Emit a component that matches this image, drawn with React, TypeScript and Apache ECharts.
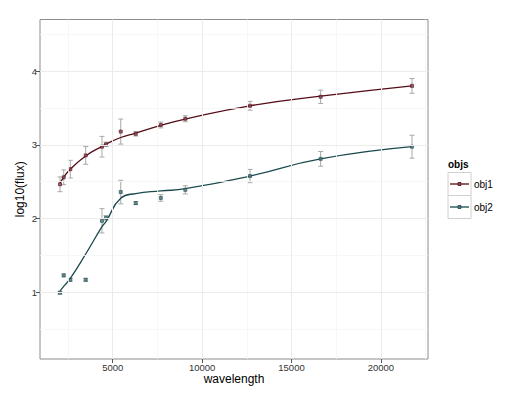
import React, { useEffect, useRef } from "react";
import * as echarts from "echarts";

const wavelengths = [2053, 2260, 2630, 3490, 4400, 4625, 5450, 6290, 7690, 9060, 12680, 16630, 21740];
const obj1Flux = [2.465, 2.56, 2.67, 2.857, 2.975, 3.007, 3.18, 3.15, 3.27, 3.354, 3.53, 3.652, 3.8];
const obj1Err = [0.1, 0.1, 0.12, 0.12, 0.14, 0.03, 0.17, 0.03, 0.04, 0.04, 0.06, 0.09, 0.1];
const obj1Model = [2.48, 2.56, 2.67, 2.85, 2.98, 3.01, 3.1, 3.16, 3.265, 3.35, 3.53, 3.66, 3.8];
const obj2Flux = [0.995, 1.23, 1.17, 1.17, 1.97, 2.01, 2.36, 2.21, 2.28, 2.39, 2.577, 2.81, 2.975];
const obj2Err = [0.02, 0.02, 0.02, 0.02, 0.165, 0.03, 0.16, 0.02, 0.045, 0.055, 0.09, 0.1, 0.155];
const obj2Model = [1.02, 1.08, 1.19, 1.52, 1.89, 1.96, 2.275, 2.34, 2.375, 2.405, 2.577, 2.81, 2.975];

const xTicks = [5000, 10000, 15000, 20000];
const xMinor = [2500, 7500, 12500, 17500, 22500];
const yTicks = [1, 2, 3, 4];
const yMinor = [0.5, 1.5, 2.5, 3.5, 4.5];
const seriesNames = ["obj1", "obj2"];

const X_MIN = 934;
const X_MAX = 22634;
const Y_MIN = 0.096;
const Y_MAX = 4.7;

const LINE1 = "#560d18";
const LINE2 = "#1b4a4f";
const FILL1 = "#8a4a55";
const FILL2 = "#4d7b7d";
const FONT = "Liberation Sans, Arial, sans-serif";

function errData(flux: number[], err: number[]) {
  return wavelengths.map((w, i) => [w, flux[i], err[i]]);
}

function renderErr(params: any, api: any) {
  const x = api.value(0);
  const y = api.value(1);
  const e = api.value(2);
  const top = api.coord([x, y + e]);
  const bot = api.coord([x, y - e]);
  const hw = 2.5;
  const style = { stroke: "#a8a8a8", lineWidth: 1 };
  return {
    type: "group",
    children: [
      { type: "line", shape: { x1: top[0], y1: top[1], x2: bot[0], y2: bot[1] }, style },
      { type: "line", shape: { x1: top[0] - hw, y1: top[1], x2: top[0] + hw, y2: top[1] }, style },
      { type: "line", shape: { x1: bot[0] - hw, y1: bot[1], x2: bot[0] + hw, y2: bot[1] }, style },
    ],
  };
}

export default function App() {
  const ref = useRef<HTMLDivElement>(null);
  useEffect(() => {
    if (!ref.current) return;
    const chart = echarts.init(ref.current, undefined, { renderer: "svg" });
    const majorStyle = { color: "#ebebeb", width: 1, type: "solid" as const };
    const minorStyle = { color: "#f5f5f5", width: 0.8, type: "solid" as const };
    const gridLines = [
      ...xMinor.map((v) => ({ xAxis: v, lineStyle: minorStyle })),
      ...yMinor.map((v) => ({ yAxis: v, lineStyle: minorStyle })),
      ...xTicks.map((v) => ({ xAxis: v, lineStyle: majorStyle })),
      ...yTicks.map((v) => ({ yAxis: v, lineStyle: majorStyle })),
    ];
    const legendItems = seriesNames.map((n, i) => {
      const top = 172.5 + i * 23;
      const c = i === 0 ? LINE1 : LINE2;
      const f = i === 0 ? FILL1 : FILL2;
      return [
        { type: "rect", shape: { x: 448, y: top, width: 23, height: 23 }, style: { fill: "#ffffff", stroke: "#d0d0d0", lineWidth: 1 } },
        { type: "line", shape: { x1: 450, y1: top + 11.5, x2: 469, y2: top + 11.5 }, style: { stroke: c, lineWidth: 1.3 } },
        { type: "rect", shape: { x: 458, y: top + 10, width: 3, height: 3 }, style: { fill: f, stroke: c, lineWidth: 0.8 } },
        { type: "text", style: { x: 474, y: top + 11.5, text: n, font: `10px ${FONT}`, fill: "#000", verticalAlign: "middle", align: "left" } },
      ];
    }).flat();

    chart.setOption({
      animation: false,
      grid: { left: 40, top: 19.5, right: 99, bottom: 43, show: true, borderColor: "#8c8c8c", borderWidth: 1, backgroundColor: "#fff", containLabel: false },
      xAxis: {
        type: "value",
        min: X_MIN,
        max: X_MAX,
        name: "wavelength",
        nameLocation: "middle",
        nameGap: 14,
        nameMoveOverlap: false,
        nameTextStyle: { fontFamily: FONT, fontSize: 12, color: "#000", padding: [0, 0, 0, 0] },
        axisLine: { show: false },
        axisTick: { show: true, customValues: xTicks, length: 4, lineStyle: { color: "#555" } },
        axisLabel: { customValues: xTicks, fontFamily: FONT, fontSize: 9.5, color: "#333", margin: 3, formatter: (v: number) => String(v) },
        splitLine: { show: false },
      },
      yAxis: {
        type: "value",
        min: Y_MIN,
        max: Y_MAX,
        name: "log10(flux)",
        nameLocation: "middle",
        nameGap: 14,
        nameMoveOverlap: false,
        nameRotate: 90,
        nameTextStyle: { fontFamily: FONT, fontSize: 12, color: "#000" },
        axisLine: { show: false },
        axisTick: { show: true, customValues: yTicks, length: 4, lineStyle: { color: "#555" } },
        axisLabel: { customValues: yTicks, fontFamily: FONT, fontSize: 9.5, color: "#333", margin: 3, formatter: (v: number) => String(v) },
        splitLine: { show: false },
      },
      series: [
        {
          type: "line",
          name: "grid",
          data: [],
          silent: true,
          z: 0,
          markLine: { silent: true, symbol: ["none", "none"], label: { show: false }, data: gridLines, animation: false },
        },
        { type: "custom", name: "obj1err", data: errData(obj1Flux, obj1Err), renderItem: renderErr, z: 1 },
        { type: "custom", name: "obj2err", data: errData(obj2Flux, obj2Err), renderItem: renderErr, z: 1 },
        {
          type: "line", name: "obj1", data: wavelengths.map((w, i) => [w, obj1Model[i]]), smooth: 0.5,
          showSymbol: false, lineStyle: { color: LINE1, width: 1.3 }, z: 2,
        },
        {
          type: "line", name: "obj2", data: wavelengths.map((w, i) => [w, obj2Model[i]]), smooth: 0.5,
          showSymbol: false, lineStyle: { color: LINE2, width: 1.3 }, z: 2,
        },
        {
          type: "scatter", name: "obj1pts", data: wavelengths.map((w, i) => [w, obj1Flux[i]]), symbol: "rect", symbolSize: 3,
          itemStyle: { color: FILL1, borderColor: LINE1, borderWidth: 0.8 }, z: 3,
        },
        {
          type: "scatter", name: "obj2pts", data: wavelengths.map((w, i) => [w, obj2Flux[i]]), symbol: "rect", symbolSize: 3,
          itemStyle: { color: FILL2, borderColor: LINE2, borderWidth: 0.8 }, z: 3,
        },
      ],
      graphic: [
        { type: "text", style: { x: 448, y: 164.5, text: "objs", font: `bold 10px ${FONT}`, fill: "#000", verticalAlign: "middle" } },
        ...legendItems,
      ],
    });
    return () => chart.dispose();
  }, []);
  return <div ref={ref} style={{ position: "fixed", left: 0, top: 0, width: 527, height: 402, background: "#fff" }} />;
}
